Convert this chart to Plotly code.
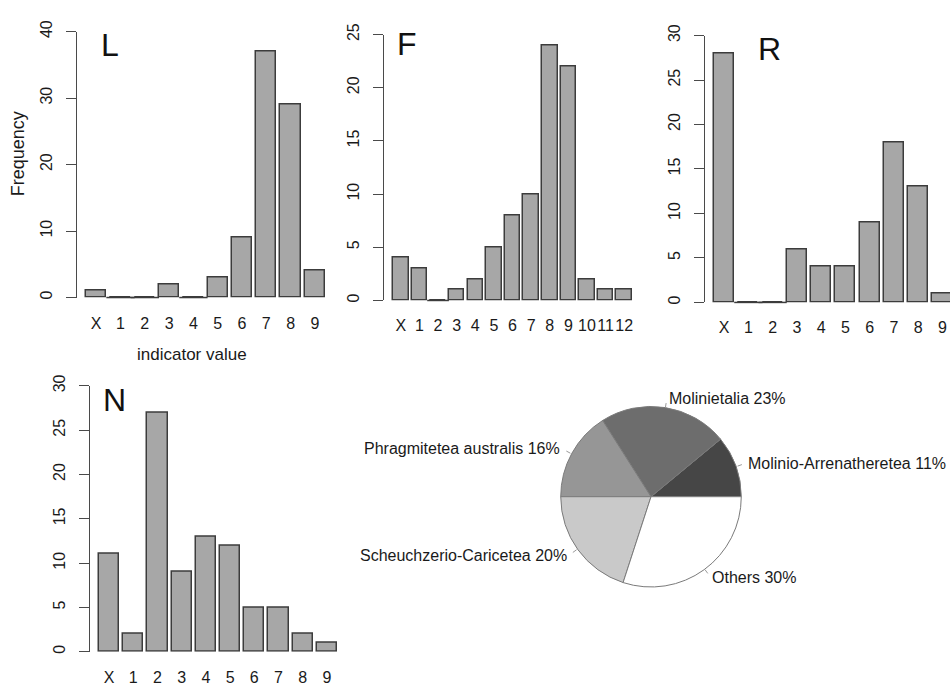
import math
import plotly.graph_objects as go

# ---------------- data ----------------
L_cats = ["X", "1", "2", "3", "4", "5", "6", "7", "8", "9"]
L_vals = [1, 0, 0, 2, 0, 3, 9, 37, 29, 4]

F_cats = ["X", "1", "2", "3", "4", "5", "6", "7", "8", "9", "10", "11", "12"]
F_vals = [4, 3, 0, 1, 2, 5, 8, 10, 24, 22, 2, 1, 1]

R_cats = ["X", "1", "2", "3", "4", "5", "6", "7", "8", "9"]
R_vals = [28, 0, 0, 6, 4, 4, 9, 18, 13, 1]

N_cats = ["X", "1", "2", "3", "4", "5", "6", "7", "8", "9"]
N_vals = [11, 2, 27, 9, 13, 12, 5, 5, 2, 1]

pie_labels = ["Molinio-Arrenatheretea", "Molinietalia", "Phragmitetea australis",
              "Scheuchzerio-Caricetea", "Others"]
pie_vals = [11, 23, 16, 20, 30]
pie_colors = ["#464646", "#6d6d6d", "#969696", "#c9c9c9", "#ffffff"]

# ---------------- layout constants (pixels) ----------------
W, H = 950, 693
FONT = "Liberation Sans, Arial, Helvetica, sans-serif"
TXT = "#1a1a1a"
AX = "#4a4a4a"
BAR_FILL = "#a7a7a7"
BAR_LINE = "#3c3c3c"
BAR_W = 1 / 1.2
TICK_FS = 16


def px(x):
    return x / W


def py(y):
    return 1 - y / H


# name, cats, vals, axis_x, right_x, first_center, pitch, y_zero, y_top, ymax, dtick, letter_xy
panels = [
    ("L", L_cats, L_vals, 77, 334, 96.2, 24.3, 292, 21, 40, 10, (110, 35)),
    ("F", F_cats, F_vals, 384, 641, 400.8, 18.62, 295, 24, 25, 5, (407, 34)),
    ("R", R_cats, R_vals, 705, 950, 724.1, 24.25, 297, 25, 30, 5, (769, 39)),
    ("N", N_cats, N_vals, 90, 346, 109.1, 24.2, 653, 382, 30, 5, (114, 396)),
]

fig = go.Figure()
annotations = []
shapes = []

for i, (name, cats, vals, ax_x, right_x, c0, pitch, y0, ytop, ymax, dtick, lxy) in enumerate(panels):
    n = i + 1
    xa = "x" if n == 1 else f"x{n}"
    ya = "y" if n == 1 else f"y{n}"
    fig.add_trace(go.Bar(
        x=cats, y=vals, xaxis=xa, yaxis=ya, width=BAR_W,
        marker=dict(color=BAR_FILL, line=dict(color=BAR_LINE, width=1.5)),
        hoverinfo="x+y",
    ))
    zc = [c for c, v in zip(cats, vals) if v == 0]
    zv = [v for v in vals if v == 0]
    if zc:
        fig.add_trace(go.Scatter(
            x=zc, y=zv, xaxis=xa, yaxis=ya, mode="markers", cliponaxis=False,
            marker=dict(symbol="line-ew", size=BAR_W * pitch,
                        line=dict(color=BAR_LINE, width=1.5)),
            hoverinfo="skip",
        ))
    xr = [(ax_x - c0) / pitch, (right_x - c0) / pitch]
    xkey = "xaxis" if n == 1 else f"xaxis{n}"
    ykey = "yaxis" if n == 1 else f"yaxis{n}"
    fig.update_layout({
        xkey: dict(domain=[px(ax_x), px(right_x)], anchor=ya, type="category",
                   categoryorder="array", categoryarray=cats,
                   range=xr, showline=False, showgrid=False, zeroline=False,
                   tickmode="array", tickvals=cats, ticktext=cats, tickangle=0,
                   ticks="", tickfont=dict(size=TICK_FS, color=TXT, family=FONT),
                   ticklabelstandoff=14, fixedrange=True),
        ykey: dict(domain=[py(y0), py(ytop)], anchor=xa, range=[0, ymax],
                   tickmode="array", tickvals=list(range(0, ymax + 1, dtick)),
                   showline=True, linecolor=AX, linewidth=1,
                   ticks="outside", ticklen=10, tickcolor=AX, tickwidth=1,
                   tickangle=-90, showgrid=False, zeroline=False,
                   tickfont=dict(size=TICK_FS, color=TXT, family=FONT),
                   ticklabelstandoff=8, fixedrange=True),
    })
    annotations.append(dict(text=name, x=px(lxy[0]), y=py(lxy[1]), xref="paper", yref="paper",
                            showarrow=False, xanchor="center", yanchor="middle",
                            font=dict(size=32, color="#111111", family=FONT)))

annotations.append(dict(text="Frequency", x=px(18), y=py(146), xref="paper", yref="paper",
                        showarrow=False, textangle=-90, xanchor="center", yanchor="middle",
                        font=dict(size=18, color=TXT, family=FONT)))
annotations.append(dict(text="indicator value", x=px(192), y=py(350), xref="paper", yref="paper",
                        showarrow=False, xanchor="center", yanchor="middle",
                        font=dict(size=17, color=TXT, family=FONT)))

# ---------------- pie ----------------
cx, cy, r = 651, 495, 92
total = sum(pie_vals)
fig.add_trace(go.Pie(
    labels=pie_labels, values=pie_vals, sort=False, direction="counterclockwise",
    rotation=90 - 360 * pie_vals[0] / total, textinfo="none", hoverinfo="label+percent",
    marker=dict(colors=pie_colors, line=dict(color="#7a7a7a", width=1)),
    domain=dict(x=[px(cx - r), px(cx + r)], y=[py(cy + r), py(cy - r)]),
    showlegend=False,
))

cum = 0
for lab, v in zip(pie_labels, pie_vals):
    mid = 2 * math.pi * (cum + v / 2) / total
    cum += v
    c, s = math.cos(mid), math.sin(mid)
    shapes.append(dict(type="line", xref="paper", yref="paper",
                       x0=px(cx + r * c), y0=py(cy - r * s),
                       x1=px(cx + 1.05 * r * c), y1=py(cy - 1.05 * r * s),
                       line=dict(color="#9a9a9a", width=1)))
    pct = round(100 * v / total)
    annotations.append(dict(text=f"{lab} {pct}%", x=px(cx + 1.1 * r * c), y=py(cy - 1.1 * r * s),
                            xref="paper", yref="paper", showarrow=False,
                            xanchor="left" if c > 0 else "right", yanchor="middle",
                            font=dict(size=16, color=TXT, family=FONT)))

fig.update_layout(
    width=W, height=H, autosize=False,
    margin=dict(l=0, r=0, t=0, b=0, pad=0),
    paper_bgcolor="white", plot_bgcolor="white",
    showlegend=False, bargap=0,
    font=dict(family=FONT, color=TXT),
    annotations=annotations, shapes=shapes,
)

fig.write_html(
    "out.html",
    config={"displayModeBar": False},
    post_script="document.body.style.margin='0';document.body.style.padding='0';"
                "document.body.style.overflow='hidden';",
)
